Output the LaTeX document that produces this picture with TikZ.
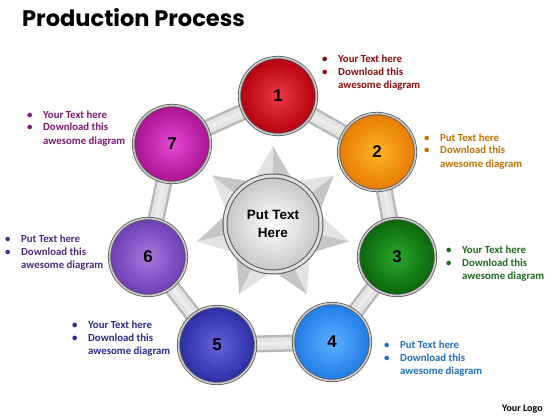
\documentclass[tikz,border=0pt]{standalone}
\usepackage{fontspec}
\setmainfont{Carlito}
\newfontfamily\titlefont{Poppins}
\newfontfamily\arialfont{Liberation Sans}
\usetikzlibrary{calc}
\pgfdeclarelayer{background}
\pgfsetlayers{background,main}
\definecolor{redA}{HTML}{EC3A44}\definecolor{redB}{HTML}{B3000C}
\definecolor{oraA}{HTML}{FFB428}\definecolor{oraB}{HTML}{E67A00}
\definecolor{grnA}{HTML}{2AA82A}\definecolor{grnB}{HTML}{0A640A}
\definecolor{bluA}{HTML}{5CB0FF}\definecolor{bluB}{HTML}{1F7CE6}
\definecolor{indA}{HTML}{6262DE}\definecolor{indB}{HTML}{2C2CA4}
\definecolor{purA}{HTML}{A878DE}\definecolor{purB}{HTML}{6C3CB4}
\definecolor{magA}{HTML}{E648D6}\definecolor{magB}{HTML}{A8128E}
\definecolor{txt1}{HTML}{8E0A0A}
\definecolor{txt2}{HTML}{C27200}
\definecolor{txt3}{HTML}{1E6A1E}
\definecolor{txt4}{HTML}{1F6EC2}
\definecolor{txt5}{HTML}{2A2A92}
\definecolor{txt6}{HTML}{4E2C7E}
\definecolor{txt7}{HTML}{7C1A72}
\newcommand\lbltext[1]{\begin{tabular}[t]{@{}p{16pt}@{}l@{}}\textbullet&#1\\\textbullet&Download this\\&awesome diagram\end{tabular}}
\begin{document}
\begin{tikzpicture}[x=1pt,y=-1pt,
  ball/.style 2 args={circle, minimum size=77pt, inner sep=0pt,
    inner color=#1, outer color=#2, draw=black!65, line width=0.8pt,
    double=gray!40, double distance=1.6pt,
    font=\arialfont\bfseries\fontsize{17}{17}\selectfont},
  hub/.style={circle, minimum size=96pt, inner sep=0pt, inner color=white,
    outer color=gray!45, draw=black!65, line width=1pt, double=gray!25,
    double distance=3pt, align=center,
    font=\arialfont\bfseries\fontsize{13.5}{18}\selectfont},
  tube/.style={line width=17pt, draw=gray!55,
    postaction={draw=gray!22, line width=12pt},
    postaction={draw=white!85!gray, line width=4pt}},
  lbl/.style={anchor=base west, inner sep=0pt,
    font=\bfseries\fontsize{10.8}{13}\selectfont},
  starlight/.style={fill=gray!22},
  stardark/.style={fill=gray!45}]
\useasboundingbox (0,0) rectangle (560,420);
\node[anchor=base west, inner sep=0pt,
  font=\titlefont\bfseries\fontsize{22.5}{24}\selectfont] (title) at (22,27) {Production Process};
\node[anchor=base west, inner sep=0pt, font=\bfseries\fontsize{10}{12}\selectfont] (logo) at (502,411) {Your Logo};
% hub
\node[hub] (ctr) at (273,224) {Put Text\\Here};
% circles
\node[ball={redA}{redB}] (c1) at (278,96) {1};
\node[ball={oraA}{oraB}] (c2) at (377,152) {2};
\node[ball={grnA}{grnB}] (c3) at (397,257) {3};
\node[ball={bluA}{bluB}] (c4) at (332,342) {4};
\node[ball={indA}{indB}] (c5) at (217,345) {5};
\node[ball={purA}{purB}] (c6) at (148,257) {6};
\node[ball={magA}{magB}] (c7) at (172,144) {7};
\begin{pgfonlayer}{background}
  \begin{scope}[shift={(ctr.center)}]
    \foreach \k in {0,...,6}{
      \pgfmathsetmacro\ang{-90+\k*360/7}
      \path[starlight] (\ang:78) -- (\ang-24:48) -- (0,0) -- cycle;
      \path[stardark] (\ang:78) -- (\ang+24:48) -- (0,0) -- cycle;
    }
  \end{scope}
  \draw[tube] (c1.center) -- (c2.center);
  \draw[tube] (c2.center) -- (c3.center);
  \draw[tube] (c3.center) -- (c4.center);
  \draw[tube] (c4.center) -- (c5.center);
  \draw[tube] (c5.center) -- (c6.center);
  \draw[tube] (c6.center) -- (c7.center);
  \draw[tube] (c7.center) -- (c1.center);
\end{pgfonlayer}
% labels
\node[lbl, text=txt1] (t1) at (322,63) {\lbltext{Your Text here}};
\node[lbl, text=txt2] (t2) at (424,141) {\lbltext{Put Text here}};
\node[lbl, text=txt3] (t3) at (446,253) {\lbltext{Your Text here}};
\node[lbl, text=txt4] (t4) at (384,348) {\lbltext{Put Text here}};
\node[lbl, text=txt5] (t5) at (72,328) {\lbltext{Your Text here}};
\node[lbl, text=txt6] (t6) at (5,242) {\lbltext{Put Text here}};
\node[lbl, text=txt7] (t7) at (27,118) {\lbltext{Your Text here}};
\end{tikzpicture}
\end{document}
